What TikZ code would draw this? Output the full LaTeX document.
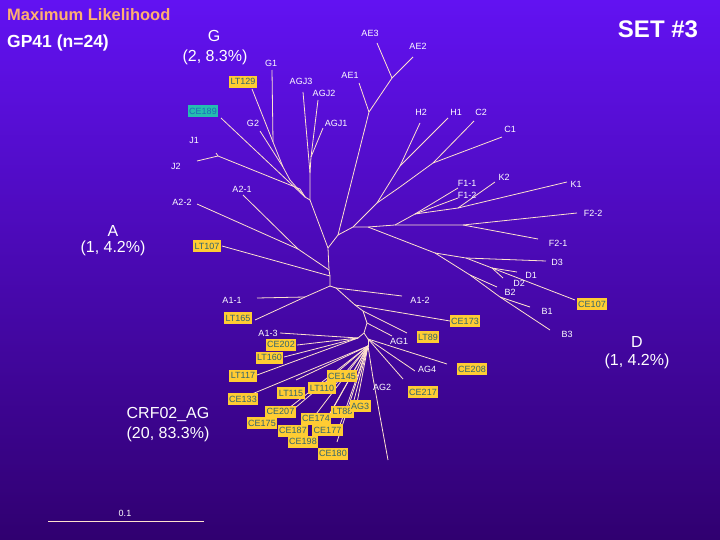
\documentclass[tikz,border=0pt]{standalone}
\usepackage{fontspec}
\setmainfont{Liberation Sans}
\definecolor{bgtop}{RGB}{98,18,242}
\definecolor{bgbot}{RGB}{48,0,112}
\definecolor{linec}{RGB}{255,226,206}
\definecolor{titlec}{RGB}{255,176,112}
\definecolor{yboxc}{RGB}{255,204,51}
\definecolor{yboxt}{RGB}{50,100,112}
\definecolor{tboxc}{RGB}{36,190,176}
\definecolor{tboxt}{RGB}{30,105,185}
\tikzset{
  br/.style={draw=linec, line width=0.8pt},
  lab/.style={text=white, font=\fontsize{9}{10}\selectfont, inner sep=0pt},
  ybox/.style={fill=yboxc, text=yboxt, font=\fontsize{9}{10}\selectfont, inner xsep=1.5pt, inner ysep=2.5pt, text height=6.5pt, text depth=0.5pt},
  tbox/.style={ybox, fill=tboxc, text=tboxt},
  big/.style={text=white, font=\fontsize{16}{19}\selectfont, inner sep=0pt},
}
\begin{document}
\begin{tikzpicture}[x=1pt,y=-1pt]
\shade[top color=bgtop, bottom color=bgbot] (0,0) rectangle (720,540);
\useasboundingbox (0,0) rectangle (720,540);

% ---------- internal nodes ----------
\coordinate (T0) at (330,286);
\coordinate (T1) at (330,276);
\coordinate (T1b) at (329,270);
\coordinate (T2) at (328,248);
\coordinate (TL) at (310,200);
\coordinate (TR) at (338,235);
\coordinate (A2n) at (298,249);
\coordinate (AGJn) at (310,173);
\coordinate (AGJ12) at (311,157);
\coordinate (NA) at (305,197);
\coordinate (Jn0) at (300,189);
\coordinate (Jn) at (218,156);
\coordinate (Gn0) at (290,180);
\coordinate (Gn1) at (283,167);
\coordinate (Gn2) at (273,142);
\coordinate (AEn) at (369,112);
\coordinate (AE23) at (392,78);
\coordinate (HCn) at (353,227);
\coordinate (NC0) at (377,203);
\coordinate (NH) at (400,166);
\coordinate (NC1) at (400,187);
\coordinate (NC2) at (433,163);
\coordinate (NFall) at (368,227);
\coordinate (NF0) at (395,225);
\coordinate (NF1) at (415,214);
\coordinate (Kn) at (458,208);
\coordinate (F2n) at (463,225);
\coordinate (DBn) at (435,253);
\coordinate (Dn) at (466,258);
\coordinate (Dn1) at (492,268);
\coordinate (Bn) at (470,275);
\coordinate (Bn1) at (500,297);
\coordinate (A1n) at (305,297);
\coordinate (Bb0) at (336,288);
\coordinate (Bb1) at (355,305);
\coordinate (Bb2) at (363,311);
\coordinate (Bb3) at (367,323);
\coordinate (Bb4) at (364,333);
\coordinate (FL) at (358,338);
\coordinate (Bb5) at (368,339);
\coordinate (Hub) at (368,346);
\coordinate (AG2n) at (373,378);

% ---------- tips ----------
\coordinate (tLT107) at (222,246);
\coordinate (tA21) at (243,195);
\coordinate (tA22) at (197,204);
\coordinate (tAGJ3) at (303,92);
\coordinate (tAGJ2) at (318,100);
\coordinate (tAGJ1) at (323,128);
\coordinate (tCE189) at (221,118);
\coordinate (tJ2) at (197,161);
\coordinate (tJ1) at (216,153);
\coordinate (tG2) at (260,131);
\coordinate (tG1) at (272,70);
\coordinate (tLT129) at (252,89);
\coordinate (tAE1) at (359,83);
\coordinate (tAE3) at (377,43);
\coordinate (tAE2) at (413,57);
\coordinate (tH2) at (420,123);
\coordinate (tH1) at (448,118);
\coordinate (tC2) at (474,121);
\coordinate (tC1) at (502,137);
\coordinate (tF11) at (458,188);
\coordinate (tF12) at (458,198);
\coordinate (tK2) at (495,182);
\coordinate (tK1) at (567,182);
\coordinate (tF22) at (577,213);
\coordinate (tF21) at (538,239);
\coordinate (tD3) at (546,261);
\coordinate (tD1) at (517,272);
\coordinate (tD2) at (503,278);
\coordinate (tCE107) at (575,300);
\coordinate (tB2) at (497,287);
\coordinate (tB1) at (530,307);
\coordinate (tB3) at (550,330);
\coordinate (tA11) at (257,298);
\coordinate (tLT165) at (255,320);
\coordinate (tA12) at (402,296);
\coordinate (tCE173) at (450,321);
\coordinate (tLT89) at (407,333);
\coordinate (tAG1) at (392,336);
\coordinate (tA13) at (280,333);
\coordinate (tCE202) at (297,345);
\coordinate (tLT160) at (284,357);
\coordinate (tLT117) at (257,375);
\coordinate (tCE208) at (447,364);
\coordinate (tAG4) at (415,371);
\coordinate (tCE217) at (403,379);
\coordinate (tCE133) at (252,394);
\coordinate (tLT115) at (296,380);
\coordinate (tCE145) at (356,373);
\coordinate (tLT110) at (335,385);
\coordinate (tCE207) at (295,408);
\coordinate (tCE175) at (275,419);
\coordinate (tCE187) at (307,426);
\coordinate (tCE174) at (330,414);
\coordinate (tLT88) at (352,408);
\coordinate (tAG3) at (357,403);
\coordinate (tCE177) at (340,425);
\coordinate (tCE198) at (316,438);
\coordinate (tCE180) at (337,442);
\coordinate (tAG2) at (388,460);

% ---------- branches ----------
\draw[br] (T0) -- (T1) -- (T1b) -- (T2) -- (TL);
\draw[br] (T2) -- (TR);
\draw[br] (T1) -- (tLT107);
\draw[br] (T1b) -- (A2n);
\draw[br] (A2n) -- (tA21);
\draw[br] (A2n) -- (tA22);
% left group
\draw[br] (TL) -- (AGJn) -- (tAGJ3);
\draw[br] (AGJn) -- (AGJ12) -- (tAGJ2);
\draw[br] (AGJ12) -- (tAGJ1);
\draw[br] (TL) -- (NA) -- (tCE189);
\draw[br] (NA) -- (Jn0) -- (Jn) -- (tJ2);
\draw[br] (Jn) -- (tJ1);
\draw[br] (NA) -- (Gn0) -- (Gn1) -- (tG2);
\draw[br] (Gn1) -- (Gn2) -- (tG1);
\draw[br] (Gn2) -- (tLT129);
% right group
\draw[br] (TR) -- (AEn) -- (tAE1);
\draw[br] (AEn) -- (AE23) -- (tAE3);
\draw[br] (AE23) -- (tAE2);
\draw[br] (TR) -- (HCn) -- (NC0) -- (NH) -- (tH2);
\draw[br] (NH) -- (tH1);
\draw[br] (NC0) -- (NC1) -- (NC2) -- (tC2);
\draw[br] (NC2) -- (tC1);
\draw[br] (HCn) -- (NFall) -- (NF0) -- (F2n) -- (tF22);
\draw[br] (F2n) -- (tF21);
\draw[br] (NF0) -- (NF1) -- (tF11);
\draw[br] (NF1) -- (tF12);
\draw[br] (NF1) -- (Kn) -- (tK2);
\draw[br] (Kn) -- (tK1);
\draw[br] (NFall) -- (DBn) -- (Dn) -- (tD3);
\draw[br] (Dn) -- (Dn1) -- (tD1);
\draw[br] (Dn1) -- (tD2);
\draw[br] (Dn1) -- (tCE107);
\draw[br] (DBn) -- (Bn) -- (tB2);
\draw[br] (Bn) -- (Bn1) -- (tB1);
\draw[br] (Bn1) -- (tB3);
% lower group
\draw[br] (T0) -- (A1n) -- (tA11);
\draw[br] (A1n) -- (tLT165);
\draw[br] (T0) -- (Bb0) -- (tA12);
\draw[br] (Bb0) -- (Bb1) -- (tCE173);
\draw[br] (Bb1) -- (Bb2) -- (tLT89);
\draw[br] (Bb2) -- (Bb3) -- (tAG1);
\draw[br] (Bb3) -- (Bb4) -- (FL) -- (tA13);
\draw[br] (FL) -- (tCE202);
\draw[br] (FL) -- (tLT160);
\draw[br] (FL) -- (tLT117);
\draw[br] (Bb4) -- (Bb5) -- (tCE208);
\draw[br] (Bb5) -- (tAG4);
\draw[br] (Bb5) -- (tCE217);
\draw[br] (Bb5) -- (Hub);
\foreach \t in {tCE133,tLT115,tCE145,tLT110,tCE207,tCE175,tCE187,tCE174,tLT88,tAG3,tCE177,tCE198,tCE180}
  \draw[br] (Hub) -- (\t);
\draw[br] (Hub) -- (AG2n) -- (tAG2);

% ---------- small white labels ----------
\node[lab] (lG1) at (271,63) {G1};
\node[lab] (lAGJ3) at (301,81) {AGJ3};
\node[lab] (lAE1) at (350,75) {AE1};
\node[lab] (lAGJ2) at (324,93) {AGJ2};
\node[lab] (lAGJ1) at (336,123) {AGJ1};
\node[lab] (lG2) at (253,123) {G2};
\node[lab] (lJ1) at (194,140) {J1};
\node[lab] (lJ2) at (176,166) {J2};
\node[lab] (lAE3) at (370,33) {AE3};
\node[lab] (lAE2) at (418,46) {AE2};
\node[lab] (lH2) at (421,112) {H2};
\node[lab] (lH1) at (456,112) {H1};
\node[lab] (lC2) at (481,112) {C2};
\node[lab] (lC1) at (510,129) {C1};
\node[lab] (lK2) at (504,177) {K2};
\node[lab] (lK1) at (576,184) {K1};
\node[lab] (lF11) at (467,183) {F1-1};
\node[lab] (lF12) at (467,195) {F1-2};
\node[lab] (lF22) at (593,213) {F2-2};
\node[lab] (lF21) at (558,243) {F2-1};
\node[lab] (lA21) at (242,189) {A2-1};
\node[lab] (lA22) at (182,202) {A2-2};
\node[lab] (lA11) at (232,300) {A1-1};
\node[lab] (lA12) at (420,300) {A1-2};
\node[lab] (lD3) at (557,262) {D3};
\node[lab] (lD1) at (531,275) {D1};
\node[lab] (lD2) at (519,283) {D2};
\node[lab] (lB2) at (510,292) {B2};
\node[lab] (lB1) at (547,311) {B1};
\node[lab] (lB3) at (567,334) {B3};
\node[lab] (lAG1) at (399,341) {AG1};
\node[lab] (lAG4) at (427,369) {AG4};
\node[lab] (lAG2) at (382,387) {AG2};
\node[lab] (lA13) at (268,333) {A1-3};

% ---------- boxed labels ----------
\node[tbox] (bCE189) at (203,111.5) {CE189};
\node[ybox] (bLT129) at (243,82) {LT129};
\node[ybox] (bLT107) at (207,246) {LT107};
\node[ybox] (bLT165) at (238,318) {LT165};
\node[ybox] (bCE173) at (465,321) {CE173};
\node[ybox] (bCE107) at (592,304) {CE107};
\node[ybox] (bLT89) at (428,337) {LT89};
\node[ybox] (bCE208) at (472,369) {CE208};
\node[ybox] (bCE217) at (423,392) {CE217};
\node[ybox] (bCE202) at (281,344.5) {CE202};
\node[ybox] (bLT160) at (269.5,357.5) {LT160};
\node[ybox] (bLT117) at (243,375.5) {LT117};
\node[ybox] (bCE133) at (243,399) {CE133};
\node[ybox] (bLT110) at (322,388) {LT110};
\node[ybox] (bCE145) at (342,376) {CE145};
\node[ybox] (bLT115) at (291,393) {LT115};
\node[ybox] (bCE207) at (280.5,411.5) {CE207};
\node[ybox] (bCE174) at (316,418.5) {CE174};
\node[ybox] (bLT88) at (342.5,411.5) {LT88};
\node[ybox] (bAG3) at (360,406) {AG3};
\node[ybox] (bCE187) at (293,430.5) {CE187};
\node[ybox] (bCE175) at (262,423) {CE175};
\node[ybox] (bCE177) at (327.5,430) {CE177};
\node[ybox] (bCE198) at (303,441.5) {CE198};
\node[ybox] (bCE180) at (333,453.5) {CE180};

% ---------- titles and group labels ----------
\node[anchor=west, text=titlec, font=\fontsize{16.5}{19}\bfseries, inner sep=0pt] (title) at (7,15) {Maximum Likelihood};
\node[anchor=west, text=white, font=\fontsize{17.5}{20}\bfseries, inner sep=0pt] (gp) at (7,43) {GP41 (n=24)};
\node[text=white, font=\fontsize{24}{28}\bfseries, inner sep=0pt] (set) at (658,29) {SET \#3};
\node[big] (gG) at (214,36) {G};
\node[big] (gG2) at (215,57) {(2, 8.3\%)};
\node[big] (gA) at (113,231) {A};
\node[big] (gA2) at (113,248) {(1, 4.2\%)};
\node[big] (gC) at (168,415) {CRF02\_AG};
\node[big] (gC2) at (168,434) {(20, 83.3\%)};
\node[big] (gD) at (637,342) {D};
\node[big] (gD2) at (637,361) {(1, 4.2\%)};

% ---------- scale bar ----------
\coordinate (s0) at (48,521);
\coordinate (s1) at (204,521);
\draw[br] (s0) -- (s1);
\node[lab] (sl) at (125,513) {0.1};
\end{tikzpicture}
\end{document}
